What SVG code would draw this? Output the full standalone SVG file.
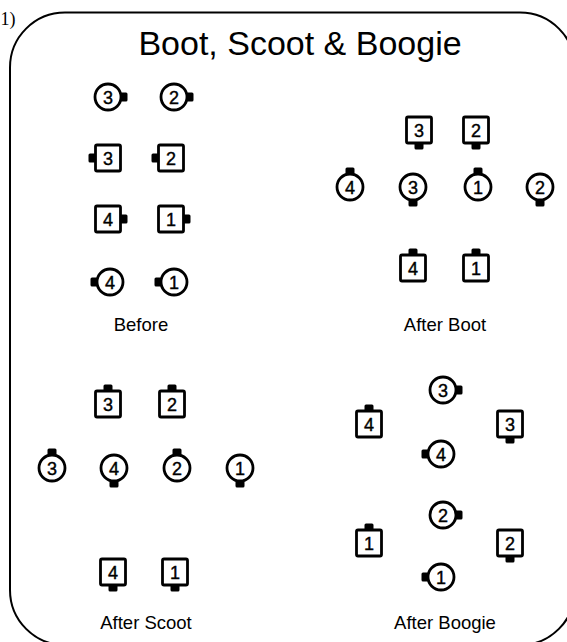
<svg xmlns="http://www.w3.org/2000/svg" xmlns:xlink="http://www.w3.org/1999/xlink" width="567" height="642" viewBox="0 0 567 642">
<style>
.frame{fill:none;stroke:#000;stroke-width:2}
.shape{fill:#fff;stroke:#000;stroke-width:2.8}
.tab{fill:#000}
.num{font-family:"Liberation Sans",Arial,sans-serif;font-size:18px;text-anchor:middle;fill:#000;stroke:#000;stroke-width:0.4}
.lbl{font-family:"Liberation Sans",Arial,sans-serif;font-size:18.5px;text-anchor:middle;fill:#000}
.title{font-family:"Liberation Sans",Arial,sans-serif;font-size:34px;text-anchor:middle;fill:#000}
.fig{font-family:"Liberation Serif","Times New Roman",serif;font-size:18px;fill:#000}
</style>
<defs>
<rect id="tab" class="tab" x="12" y="-4.5" width="7.5" height="9" rx="1.5"/>
<circle id="cir" class="shape" r="13"/>
<rect id="sq" class="shape" x="-12.5" y="-13" width="25" height="26" rx="1.5"/>
</defs>
<rect class="frame" x="10" y="12.5" width="565" height="632.5" rx="55" ry="55"/>
<text class="fig" x="0.5" y="25">1)</text>
<text class="title" x="300" y="55">Boot, Scoot &amp; Boogie</text>

<g id="before">
<g id="b-c3" transform="translate(108,97)"><use xlink:href="#tab"/><use xlink:href="#cir"/><text class="num" y="6.5">3</text></g>
<g id="b-c2" transform="translate(174,97)"><use xlink:href="#tab"/><use xlink:href="#cir"/><text class="num" y="6.5">2</text></g>
<g id="b-s3" transform="translate(108,158)"><use xlink:href="#tab" transform="rotate(180)"/><use xlink:href="#sq"/><text class="num" y="6.5">3</text></g>
<g id="b-s2" transform="translate(171,158)"><use xlink:href="#tab" transform="rotate(180)"/><use xlink:href="#sq"/><text class="num" y="6.5">2</text></g>
<g id="b-s4" transform="translate(108,219)"><use xlink:href="#tab"/><use xlink:href="#sq"/><text class="num" y="6.5">4</text></g>
<g id="b-s1" transform="translate(171,219)"><use xlink:href="#tab"/><use xlink:href="#sq"/><text class="num" y="6.5">1</text></g>
<g id="b-c4" transform="translate(110,282)"><use xlink:href="#tab" transform="rotate(180)"/><use xlink:href="#cir"/><text class="num" y="6.5">4</text></g>
<g id="b-c1" transform="translate(174,282)"><use xlink:href="#tab" transform="rotate(180)"/><use xlink:href="#cir"/><text class="num" y="6.5">1</text></g>
<text class="lbl" x="141" y="331">Before</text>
</g>

<g id="afterboot">
<g id="ab-s3" transform="translate(419,130)"><use xlink:href="#tab" transform="rotate(90)"/><use xlink:href="#sq"/><text class="num" y="6.5">3</text></g>
<g id="ab-s2" transform="translate(476,130)"><use xlink:href="#tab" transform="rotate(90)"/><use xlink:href="#sq"/><text class="num" y="6.5">2</text></g>
<g id="ab-c4" transform="translate(350,187)"><use xlink:href="#tab" transform="rotate(270)"/><use xlink:href="#cir"/><text class="num" y="6.5">4</text></g>
<g id="ab-c3" transform="translate(413,187)"><use xlink:href="#tab" transform="rotate(90)"/><use xlink:href="#cir"/><text class="num" y="6.5">3</text></g>
<g id="ab-c1" transform="translate(478,187)"><use xlink:href="#tab" transform="rotate(270)"/><use xlink:href="#cir"/><text class="num" y="6.5">1</text></g>
<g id="ab-c2" transform="translate(540,187)"><use xlink:href="#tab" transform="rotate(90)"/><use xlink:href="#cir"/><text class="num" y="6.5">2</text></g>
<g id="ab-s4" transform="translate(413,268)"><use xlink:href="#tab" transform="rotate(270)"/><use xlink:href="#sq"/><text class="num" y="6.5">4</text></g>
<g id="ab-s1" transform="translate(476,268)"><use xlink:href="#tab" transform="rotate(270)"/><use xlink:href="#sq"/><text class="num" y="6.5">1</text></g>
<text class="lbl" x="445" y="331">After Boot</text>
</g>

<g id="afterscoot">
<g id="as-s3" transform="translate(108,404)"><use xlink:href="#tab" transform="rotate(270)"/><use xlink:href="#sq"/><text class="num" y="6.5">3</text></g>
<g id="as-s2" transform="translate(172,404)"><use xlink:href="#tab" transform="rotate(270)"/><use xlink:href="#sq"/><text class="num" y="6.5">2</text></g>
<g id="as-c3" transform="translate(52,468)"><use xlink:href="#tab" transform="rotate(270)"/><use xlink:href="#cir"/><text class="num" y="6.5">3</text></g>
<g id="as-c4" transform="translate(114,468)"><use xlink:href="#tab" transform="rotate(90)"/><use xlink:href="#cir"/><text class="num" y="6.5">4</text></g>
<g id="as-c2" transform="translate(177,468)"><use xlink:href="#tab" transform="rotate(270)"/><use xlink:href="#cir"/><text class="num" y="6.5">2</text></g>
<g id="as-c1" transform="translate(240,468)"><use xlink:href="#tab" transform="rotate(90)"/><use xlink:href="#cir"/><text class="num" y="6.5">1</text></g>
<g id="as-s4" transform="translate(113,572)"><use xlink:href="#tab" transform="rotate(90)"/><use xlink:href="#sq"/><text class="num" y="6.5">4</text></g>
<g id="as-s1" transform="translate(175,572)"><use xlink:href="#tab" transform="rotate(90)"/><use xlink:href="#sq"/><text class="num" y="6.5">1</text></g>
<text class="lbl" x="146" y="629">After Scoot</text>
</g>

<g id="afterboogie">
<g id="ag-c3" transform="translate(443,390)"><use xlink:href="#tab"/><use xlink:href="#cir"/><text class="num" y="6.5">3</text></g>
<g id="ag-s4" transform="translate(369,424)"><use xlink:href="#tab" transform="rotate(270)"/><use xlink:href="#sq"/><text class="num" y="6.5">4</text></g>
<g id="ag-s3" transform="translate(510,424)"><use xlink:href="#tab" transform="rotate(90)"/><use xlink:href="#sq"/><text class="num" y="6.5">3</text></g>
<g id="ag-c4" transform="translate(441,454)"><use xlink:href="#tab" transform="rotate(180)"/><use xlink:href="#cir"/><text class="num" y="6.5">4</text></g>
<g id="ag-c2" transform="translate(443,515)"><use xlink:href="#tab"/><use xlink:href="#cir"/><text class="num" y="6.5">2</text></g>
<g id="ag-s1" transform="translate(369,543)"><use xlink:href="#tab" transform="rotate(270)"/><use xlink:href="#sq"/><text class="num" y="6.5">1</text></g>
<g id="ag-s2" transform="translate(510,543)"><use xlink:href="#tab" transform="rotate(90)"/><use xlink:href="#sq"/><text class="num" y="6.5">2</text></g>
<g id="ag-c1" transform="translate(441,577)"><use xlink:href="#tab" transform="rotate(180)"/><use xlink:href="#cir"/><text class="num" y="6.5">1</text></g>
<text class="lbl" x="445" y="629">After Boogie</text>
</g>
</svg>
